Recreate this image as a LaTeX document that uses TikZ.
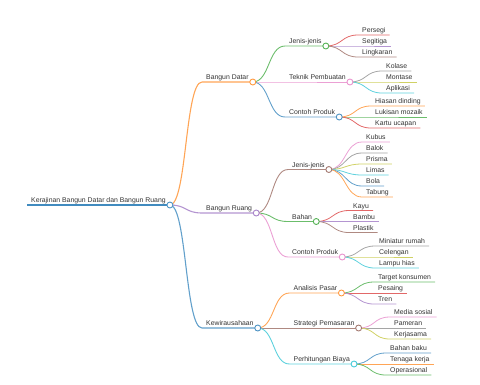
\documentclass[tikz,border=0pt]{standalone}
\usepackage{fontspec}
\setmainfont{Liberation Sans}
\usepackage{tikz}
\usetikzlibrary{positioning,calc}

% category colours
\definecolor{mmblue}{HTML}{1F77B4}
\definecolor{mmorange}{HTML}{FF7F0E}
\definecolor{mmgreen}{HTML}{2CA02C}
\definecolor{mmred}{HTML}{D62728}
\definecolor{mmpurple}{HTML}{9467BD}
\definecolor{mmbrown}{HTML}{8C564B}
\definecolor{mmpink}{HTML}{E377C2}
\definecolor{mmgray}{HTML}{7F7F7F}
\definecolor{mmolive}{HTML}{BCBD22}
\definecolor{mmcyan}{HTML}{17BECF}

\begin{document}
\begin{tikzpicture}[
    x=1bp, y=-1bp,
    topic/.style={anchor=south west, inner xsep=4pt, inner ysep=0pt, text depth=2.3pt, font=\fontsize{6.9}{8}\selectfont, text=black!80},
    edge0/.style={draw=#1!85, line width=1.5pt},
    edge1/.style={draw=#1!70, line width=1.1pt},
    edge2/.style={draw=#1!70, line width=0.9pt},
    edge3/.style={draw=#1!70, line width=0.8pt},
    knob/.style={draw=#1!80, fill=white, line width=0.9pt}
]
\useasboundingbox (0,0) rectangle (480,384);

% Root
\node[topic] (root) at (27,205) {Kerajinan Bangun Datar dan Bangun Ruang};

% Main branches
\node[topic] (bd) at (202,82) {Bangun Datar};
\node[topic] (br) at (202,213) {Bangun Ruang};
\node[topic] (kw) at (202,328) {Kewirausahaan};

% Bangun Datar
\node[topic] (bdjenis) at (285,46) {Jenis-jenis};
\node[topic] (bdteknik) at (285,82) {Teknik Pembuatan};
\node[topic] (bdcontoh) at (285,117) {Contoh Produk};

\node[topic] (persegi) at (358,35) {Persegi};
\node[topic] (segitiga) at (358,46) {Segitiga};
\node[topic] (lingkaran) at (358,57) {Lingkaran};

\node[topic] (kolase) at (382,71) {Kolase};
\node[topic] (montase) at (382,82) {Montase};
\node[topic] (aplikasi) at (382,93) {Aplikasi};

\node[topic] (hiasan) at (371,106) {Hiasan dinding};
\node[topic] (lukisan) at (371,117) {Lukisan mozaik};
\node[topic] (kartu) at (371,128) {Kartu ucapan};

% Bangun Ruang
\node[topic] (brjenis) at (288,169.5) {Jenis-jenis};
\node[topic] (brbahan) at (288,221.5) {Bahan};
\node[topic] (brcontoh) at (288,257) {Contoh Produk};

\node[topic] (kubus) at (362,142) {Kubus};
\node[topic] (balok) at (362,153) {Balok};
\node[topic] (prisma) at (362,164) {Prisma};
\node[topic] (limas) at (362,175) {Limas};
\node[topic] (bola) at (362,186) {Bola};
\node[topic] (tabung) at (362,197) {Tabung};

\node[topic] (kayu) at (349,210.5) {Kayu};
\node[topic] (bambu) at (349,221.5) {Bambu};
\node[topic] (plastik) at (349,232.5) {Plastik};

\node[topic] (miniatur) at (375,246) {Miniatur rumah};
\node[topic] (celengan) at (375,257) {Celengan};
\node[topic] (lampu) at (375,268) {Lampu hias};

% Kewirausahaan
\node[topic] (kwanalisis) at (289.5,293) {Analisis Pasar};
\node[topic] (kwstrategi) at (289.5,328) {Strategi Pemasaran};
\node[topic] (kwbiaya) at (289.5,364) {Perhitungan Biaya};

\node[topic] (target) at (374,282) {Target konsumen};
\node[topic] (pesaing) at (374,293) {Pesaing};
\node[topic] (tren) at (374,304) {Tren};

\node[topic] (media) at (390,317) {Media sosial};
\node[topic] (pameran) at (390,328) {Pameran};
\node[topic] (kerjasama) at (390,339) {Kerjasama};

\node[topic] (bahanbaku) at (386,353) {Bahan baku};
\node[topic] (tenaga) at (386,364) {Tenaga kerja};
\node[topic] (operasional) at (386,375) {Operasional};

% Underline of the root
\draw[edge0=mmblue] (root.south west) -- (root.south east);

% Root to main branches
\draw[edge1=mmorange] (root.south east) .. controls +(17,0) and +(-17,0) .. (bd.south west) -- (bd.south east);
\draw[edge1=mmpurple] (root.south east) .. controls +(17,0) and +(-17,0) .. (br.south west) -- (br.south east);
\draw[edge1=mmblue] (root.south east) .. controls +(17,0) and +(-17,0) .. (kw.south west) -- (kw.south east);

% Bangun Datar links
\draw[edge2=mmgreen] (bd.south east) .. controls +(17,0) and +(-17,0) .. (bdjenis.south west) -- (bdjenis.south east);
\draw[edge2=mmpink] (bd.south east) .. controls +(17,0) and +(-17,0) .. (bdteknik.south west) -- (bdteknik.south east);
\draw[edge2=mmblue] (bd.south east) .. controls +(17,0) and +(-17,0) .. (bdcontoh.south west) -- (bdcontoh.south east);

\draw[edge3=mmred] (bdjenis.south east) .. controls +(17,0) and +(-17,0) .. (persegi.south west) -- (persegi.south east);
\draw[edge3=mmpurple] (bdjenis.south east) .. controls +(17,0) and +(-17,0) .. (segitiga.south west) -- (segitiga.south east);
\draw[edge3=mmbrown] (bdjenis.south east) .. controls +(17,0) and +(-17,0) .. (lingkaran.south west) -- (lingkaran.south east);

\draw[edge3=mmgray] (bdteknik.south east) .. controls +(17,0) and +(-17,0) .. (kolase.south west) -- (kolase.south east);
\draw[edge3=mmolive] (bdteknik.south east) .. controls +(17,0) and +(-17,0) .. (montase.south west) -- (montase.south east);
\draw[edge3=mmcyan] (bdteknik.south east) .. controls +(17,0) and +(-17,0) .. (aplikasi.south west) -- (aplikasi.south east);

\draw[edge3=mmorange] (bdcontoh.south east) .. controls +(17,0) and +(-17,0) .. (hiasan.south west) -- (hiasan.south east);
\draw[edge3=mmgreen] (bdcontoh.south east) .. controls +(17,0) and +(-17,0) .. (lukisan.south west) -- (lukisan.south east);
\draw[edge3=mmred] (bdcontoh.south east) .. controls +(17,0) and +(-17,0) .. (kartu.south west) -- (kartu.south east);

% Bangun Ruang links
\draw[edge2=mmbrown] (br.south east) .. controls +(17,0) and +(-17,0) .. (brjenis.south west) -- (brjenis.south east);
\draw[edge2=mmgreen] (br.south east) .. controls +(17,0) and +(-17,0) .. (brbahan.south west) -- (brbahan.south east);
\draw[edge2=mmpink] (br.south east) .. controls +(17,0) and +(-17,0) .. (brcontoh.south west) -- (brcontoh.south east);

\draw[edge3=mmpink] (brjenis.south east) .. controls +(17,0) and +(-17,0) .. (kubus.south west) -- (kubus.south east);
\draw[edge3=mmgray] (brjenis.south east) .. controls +(17,0) and +(-17,0) .. (balok.south west) -- (balok.south east);
\draw[edge3=mmolive] (brjenis.south east) .. controls +(17,0) and +(-17,0) .. (prisma.south west) -- (prisma.south east);
\draw[edge3=mmcyan] (brjenis.south east) .. controls +(17,0) and +(-17,0) .. (limas.south west) -- (limas.south east);
\draw[edge3=mmblue] (brjenis.south east) .. controls +(17,0) and +(-17,0) .. (bola.south west) -- (bola.south east);
\draw[edge3=mmorange] (brjenis.south east) .. controls +(17,0) and +(-17,0) .. (tabung.south west) -- (tabung.south east);

\draw[edge3=mmred] (brbahan.south east) .. controls +(17,0) and +(-17,0) .. (kayu.south west) -- (kayu.south east);
\draw[edge3=mmpurple] (brbahan.south east) .. controls +(17,0) and +(-17,0) .. (bambu.south west) -- (bambu.south east);
\draw[edge3=mmbrown] (brbahan.south east) .. controls +(17,0) and +(-17,0) .. (plastik.south west) -- (plastik.south east);

\draw[edge3=mmgray] (brcontoh.south east) .. controls +(17,0) and +(-17,0) .. (miniatur.south west) -- (miniatur.south east);
\draw[edge3=mmolive] (brcontoh.south east) .. controls +(17,0) and +(-17,0) .. (celengan.south west) -- (celengan.south east);
\draw[edge3=mmcyan] (brcontoh.south east) .. controls +(17,0) and +(-17,0) .. (lampu.south west) -- (lampu.south east);

% Kewirausahaan links
\draw[edge2=mmorange] (kw.south east) .. controls +(17,0) and +(-17,0) .. (kwanalisis.south west) -- (kwanalisis.south east);
\draw[edge2=mmbrown] (kw.south east) .. controls +(17,0) and +(-17,0) .. (kwstrategi.south west) -- (kwstrategi.south east);
\draw[edge2=mmcyan] (kw.south east) .. controls +(17,0) and +(-17,0) .. (kwbiaya.south west) -- (kwbiaya.south east);

\draw[edge3=mmgreen] (kwanalisis.south east) .. controls +(17,0) and +(-17,0) .. (target.south west) -- (target.south east);
\draw[edge3=mmred] (kwanalisis.south east) .. controls +(17,0) and +(-17,0) .. (pesaing.south west) -- (pesaing.south east);
\draw[edge3=mmpurple] (kwanalisis.south east) .. controls +(17,0) and +(-17,0) .. (tren.south west) -- (tren.south east);

\draw[edge3=mmpink] (kwstrategi.south east) .. controls +(17,0) and +(-17,0) .. (media.south west) -- (media.south east);
\draw[edge3=mmgray] (kwstrategi.south east) .. controls +(17,0) and +(-17,0) .. (pameran.south west) -- (pameran.south east);
\draw[edge3=mmolive] (kwstrategi.south east) .. controls +(17,0) and +(-17,0) .. (kerjasama.south west) -- (kerjasama.south east);

\draw[edge3=mmblue] (kwbiaya.south east) .. controls +(17,0) and +(-17,0) .. (bahanbaku.south west) -- (bahanbaku.south east);
\draw[edge3=mmorange] (kwbiaya.south east) .. controls +(17,0) and +(-17,0) .. (tenaga.south west) -- (tenaga.south east);
\draw[edge3=mmgreen] (kwbiaya.south east) .. controls +(17,0) and +(-17,0) .. (operasional.south west) -- (operasional.south east);

% Circles on the branching points
\draw[knob=mmblue] (root.south east) circle[radius=3pt];
\draw[knob=mmorange] (bd.south east) circle[radius=3pt];
\draw[knob=mmpurple] (br.south east) circle[radius=3pt];
\draw[knob=mmblue] (kw.south east) circle[radius=3pt];
\draw[knob=mmgreen] (bdjenis.south east) circle[radius=3pt];
\draw[knob=mmpink] (bdteknik.south east) circle[radius=3pt];
\draw[knob=mmblue] (bdcontoh.south east) circle[radius=3pt];
\draw[knob=mmbrown] (brjenis.south east) circle[radius=3pt];
\draw[knob=mmgreen] (brbahan.south east) circle[radius=3pt];
\draw[knob=mmpink] (brcontoh.south east) circle[radius=3pt];
\draw[knob=mmorange] (kwanalisis.south east) circle[radius=3pt];
\draw[knob=mmbrown] (kwstrategi.south east) circle[radius=3pt];
\draw[knob=mmcyan] (kwbiaya.south east) circle[radius=3pt];

\end{tikzpicture}
\end{document}
